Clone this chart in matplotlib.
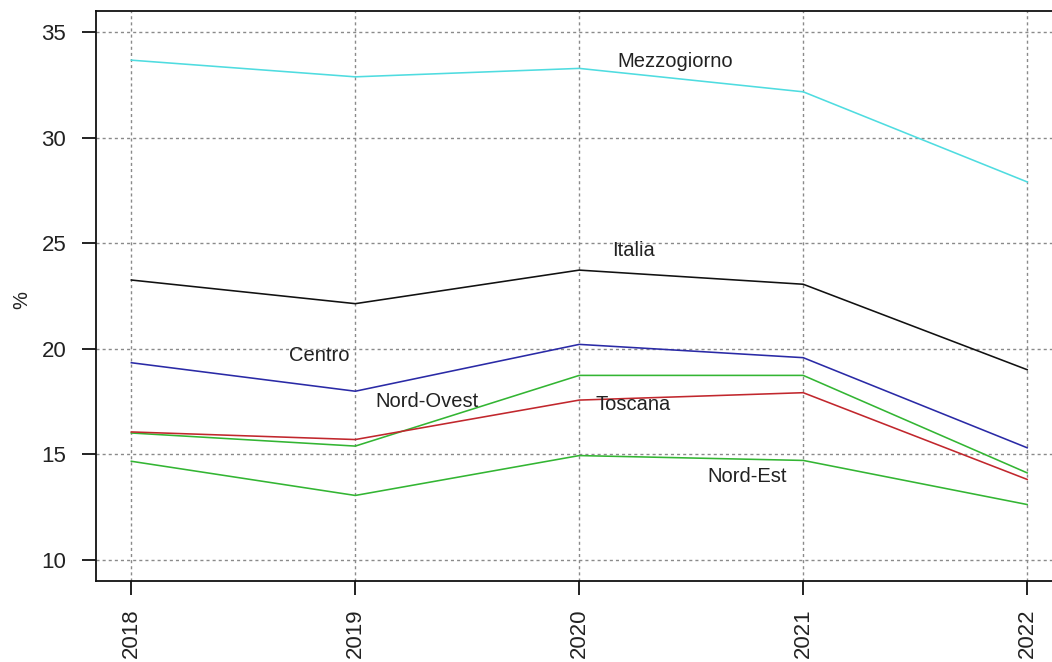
import matplotlib
matplotlib.use("Agg")
import matplotlib.pyplot as plt

plt.rcParams['font.family'] = ['Liberation Sans', 'DejaVu Sans']

years = [2018, 2019, 2020, 2021, 2022]
mezzogiorno = [33.67, 32.88, 33.28, 32.17, 27.90]
italia = [23.25, 22.13, 23.72, 23.05, 19.00]
centro = [19.33, 17.98, 20.20, 19.57, 15.30]
nord_ovest = [16.00, 15.38, 18.73, 18.73, 14.11]
toscana = [16.05, 15.69, 17.56, 17.91, 13.80]
nord_est = [14.66, 13.04, 14.93, 14.70, 12.61]

series_names = ["Mezzogiorno", "Italia", "Centro", "Nord-Ovest", "Toscana", "Nord-Est"]
series_values = [mezzogiorno, italia, centro, nord_ovest, toscana, nord_est]
series_colors = ["#4FDCE0", "#111111", "#2A2AA6", "#33B533", "#C1272D", "#33B533"]

# where each region's name is written (data coordinates)
label_x = [2020.43, 2020.24, 2018.84, 2019.32, 2020.24, 2020.75]
label_y = [33.62, 24.66, 19.68, 17.50, 17.35, 13.94]

y_ticks = [10, 15, 20, 25, 30, 35]

fig = plt.figure(figsize=(10.52, 6.62), dpi=100)
ax = fig.add_axes([95.5 / 1052, 1 - 580.7 / 662, (1063 - 95.5) / 1052, (580.7 - 11) / 662])

for xv in years:
    ax.axvline(xv, color="#8a8a8a", lw=1.0, ls=(0, (2.2, 2.2)), zorder=1)
for yv in y_ticks:
    ax.axhline(yv, color="#8a8a8a", lw=1.0, ls=(0, (2.2, 2.2)), zorder=1)

draw_order = [0, 1, 2, 3, 5, 4]
for i in draw_order:
    ax.plot(years, series_values[i], color=series_colors[i], lw=1.15, zorder=3)

for name, lx, ly in zip(series_names, label_x, label_y):
    ax.text(lx, ly, name, ha="center", va="center", fontsize=14.5, color="#222222", zorder=4)

ax.set_xlim(2017.84, 2022.16)
ax.set_ylim(9, 36)
ax.set_xticks(years)
ax.set_xticklabels([str(y) for y in years], rotation=90, va="top")
ax.set_yticks(y_ticks)
ax.tick_params(axis="both", direction="out", length=10, width=1.3, labelsize=16,
               color="#111111", labelcolor="#222222")
ax.tick_params(axis="y", pad=11)
ax.tick_params(axis="x", pad=10)
for sp in ax.spines.values():
    sp.set_linewidth(1.3)
    sp.set_color("#111111")
ax.spines["right"].set_visible(False)

fig.text(22 / 1052, 1 - 300 / 662, "%", rotation=90, ha="center", va="center",
         fontsize=14.5, color="#222222")

fig.savefig("out.png", dpi=100)
